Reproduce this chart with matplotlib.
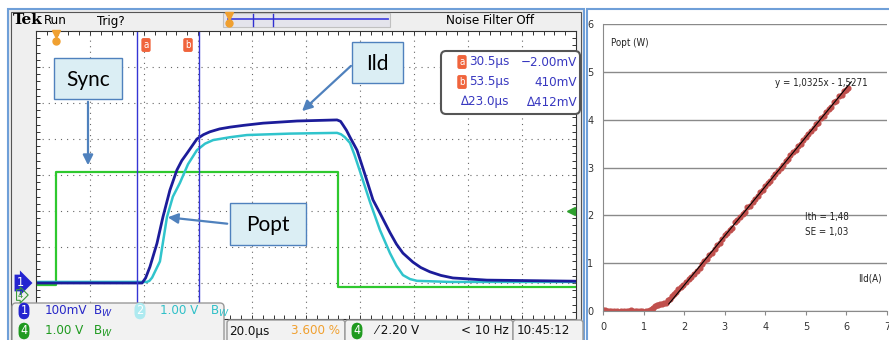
import numpy as np
import matplotlib.pyplot as plt
from matplotlib.patches import Rectangle, FancyBboxPatch

# ---- oscilloscope traces (time in us) ----
t_ild = [-7.0, 32.3, 33.6, 35.2, 37.8, 40.0, 42.6, 45.2, 47.0, 48.9, 52.6, 55.0, 57.4, 61.0,
         64.9, 70.0, 77.1, 89.7, 104.5, 105.8, 106.7, 108.0, 109.3, 111.9, 114.9, 117.8,
         120.4, 124.1, 126.5, 128.9, 132.6, 135.5, 138.9, 143.0, 147.4, 160.0, 193.0]
ild_mv = [0, 0, 14, 45, 110, 183, 258, 314, 340, 360, 400, 412, 420, 428,
          433, 438, 444, 450, 453, 449, 439, 424, 405, 369, 300, 231,
          194, 140, 108, 83, 58, 43, 31, 21, 14, 8, 5]

t_popt = [-7.0, 34.1, 35.0, 36.0, 38.9, 41.5, 43.7, 46.3, 49.3, 52.6, 55.6, 58.6, 64.9, 71.1,
          87.1, 104.5, 106.0, 107.4, 109.3, 111.0, 113.0, 116.7, 120.4, 124.1, 126.5, 128.9,
          131.5, 134.1, 146.3, 193.0]
popt_v = [0.03, 0.03, 0.06, 0.15, 0.6, 1.83, 2.4, 2.78, 3.3, 3.69, 3.87, 3.97, 4.05, 4.11,
          4.15, 4.17, 4.13, 4.05, 3.89, 3.55, 3.1, 2.25, 1.47, 0.83, 0.48, 0.22,
          0.11, 0.06, 0.03, 0.03]

t_sync = [-7.0, 0.4, 0.4, 104.9, 104.9, 193.0]
sync_v = [-0.05, -0.05, 3.08, 3.08, -0.1, -0.1]

cursors_us = [30.5, 53.5]
ch1_scale = 100.0   # mV/div
ch2_scale = 1.0     # V/div
ch4_scale = 1.0     # V/div
gnd = -3            # ground level (div)

# ---- P-I characteristic ----
ild_a = [0.00, 0.03, 0.06, 0.10, 0.14, 0.20, 0.28, 0.35, 0.45, 0.52, 0.58, 0.63, 0.68, 0.72,
         0.78, 0.83, 0.90, 0.97, 1.05, 1.12,
         1.16, 1.20, 1.24, 1.28, 1.32, 1.36, 1.40, 1.45, 1.50, 1.55, 1.60, 1.65, 1.70, 1.75,
         1.80, 1.86, 1.92, 1.98, 2.05, 2.12, 2.18, 2.25, 2.31, 2.38, 2.44, 2.50, 2.56, 2.62,
         2.69, 2.75, 2.81, 2.88, 2.94, 3.00, 3.06, 3.12, 3.19, 3.25, 3.31, 3.38, 3.44, 3.50,
         3.56, 3.62, 3.69, 3.75, 3.81, 3.88, 3.94, 4.00, 4.06, 4.12, 4.19, 4.25, 4.31, 4.38,
         4.44, 4.50, 4.56, 4.62, 4.69, 4.75, 4.81, 4.88, 4.94, 5.00, 5.06, 5.12, 5.19, 5.25,
         5.31, 5.38, 5.44, 5.50, 5.56, 5.62, 5.69, 5.75, 5.81, 5.88, 5.94, 6.00, 6.05]
popt_w = [0.02, 0.01, 0.03, 0.01, 0.00, 0.01, 0.00, -0.01, 0.00, 0.01, 0.01, 0.00, 0.02, 0.01,
          0.01, 0.00, 0.01, 0.00, -0.01, 0.00,
          0.02, 0.04, 0.07, 0.10, 0.12, 0.13, 0.14, 0.15, 0.16, 0.17, 0.22, 0.26, 0.31, 0.36,
          0.40, 0.45, 0.50, 0.54, 0.60, 0.66, 0.72, 0.77, 0.83, 0.90, 0.99, 1.04, 1.09, 1.18,
          1.22, 1.30, 1.38, 1.42, 1.50, 1.58, 1.63, 1.70, 1.74, 1.86, 1.90, 1.96, 2.03, 2.07,
          2.18, 2.20, 2.27, 2.34, 2.40, 2.49, 2.53, 2.61, 2.68, 2.72, 2.81, 2.87, 2.92, 3.00,
          3.05, 3.13, 3.17, 3.26, 3.32, 3.37, 3.45, 3.50, 3.58, 3.64, 3.69, 3.77, 3.82, 3.90,
          3.94, 4.04, 4.08, 4.15, 4.22, 4.26, 4.36, 4.40, 4.49, 4.52, 4.60, 4.63, 4.66]
fit_slope = 1.0325
fit_icpt = -1.5271
fit_range = [1.62, 6.12]

W, H = 889, 340
cond = dict(family='DejaVu Sans', stretch='condensed')


def box(l, t, r, b):
    return [l / W, 1 - b / H, (r - l) / W, (b - t) / H]


fig = plt.figure(figsize=(W / 100, H / 100), dpi=100)

# background frames
bg = fig.add_axes([0, 0, 1, 1], zorder=0)
bg.set_xlim(0, W); bg.set_ylim(H, 0); bg.axis('off')
bg.add_patch(Rectangle((8, 9), 576, 335, fc='#ececec', ec='#6f9fd8', lw=1.5))
bg.add_patch(Rectangle((11, 12), 570, 330, fc='#efefef', ec='#555555', lw=0.8))
bg.add_patch(Rectangle((587, 9), 305, 335, fc='white', ec='#6f9fd8', lw=1.5))

# ---- scope screen ----
sc = fig.add_axes(box(36, 31, 576, 319), zorder=1)
sc.set_facecolor('white')
sc.set_xlim(-7, 193)
sc.set_ylim(-4, 4)
for s in sc.spines.values():
    s.set_color('#333333'); s.set_linewidth(0.8)
sc.set_xticks(np.arange(-7, 193.1, 4))
sc.set_yticks(np.arange(-4, 4.01, 0.2))
sc.tick_params(direction='in', length=3, width=0.7, color='#333333',
               top=True, right=True, labelbottom=False, labelleft=False)
for k in range(1, 10):
    sc.axvline(-7 + 20 * k, color='#666666', lw=0.8, ls=(0, (1, 4)))
for k in range(-3, 4):
    sc.axhline(k, color='#666666', lw=0.8, ls=(0, (1, 4.5)))

sc.plot(t_sync, gnd + np.array(sync_v) / ch4_scale, color='#2ec82e', lw=1.6)
sc.plot(t_popt, gnd + np.array(popt_v) / ch2_scale, color='#30c4cc', lw=1.8)
sc.plot(t_ild, gnd + np.array(ild_mv) / ch1_scale, color='#1c1c9a', lw=2.0)
for c in cursors_us:
    sc.axvline(c, color='#3535d5', lw=1.0)

# ---- P-I chart ----
pi = fig.add_axes(box(603, 24, 887, 311), zorder=1)
pi.set_xlim(0, 7)
pi.set_ylim(0, 6)
pi.set_xticks(range(8))
pi.set_yticks(range(7))
pi.grid(axis='y', color='#8a8a8a', lw=1)
pi.set_axisbelow(True)
for s in ['top', 'right']:
    pi.spines[s].set_visible(False)
for s in ['left', 'bottom']:
    pi.spines[s].set_color('#8a8a8a')
pi.tick_params(axis='x', length=3, color='#8a8a8a', labelsize=7, labelcolor='#333333', pad=5)
pi.tick_params(axis='y', length=0, labelsize=7, labelcolor='#333333', pad=7)
pi.plot(ild_a, popt_w, 'o', color='#c0504d', ms=3.4, mec='#c0504d')
fx = np.array(fit_range)
pi.plot(fx, fit_slope * fx + fit_icpt, color='black', lw=0.8)
lbl = dict(fontsize=7, color='#222222', va='center', **cond)
pi.text(0.2, 5.6, 'Popt (W)', **lbl)
pi.text(4.25, 4.77, 'y = 1,0325x - 1,5271', **lbl)
pi.text(4.97, 1.97, 'Ith = 1,48', **lbl)
pi.text(4.97, 1.65, 'SE = 1,03', **lbl)
pi.text(6.3, 0.67, 'Ild(A)', **lbl)

# ---- overlay: scope chrome and annotations ----
ov = fig.add_axes([0, 0, 1, 1], zorder=2)
ov.set_xlim(0, W); ov.set_ylim(H, 0); ov.axis('off')
ov.patch.set_alpha(0)

ov.text(13, 20, 'Tek', family='DejaVu Serif', weight='bold', fontsize=11, va='center')
ov.text(44, 21, 'Run', fontsize=9.5, va='center', **cond)
ov.text(97, 21, 'Trig?', fontsize=9.5, va='center', **cond)
ov.text(446, 21, 'Noise Filter Off', fontsize=9.5, va='center', **cond)
ov.add_patch(Rectangle((223, 13), 167, 14, fc='#e4e4ec', ec='#c0c0c0', lw=0.8))
ov.plot([228, 388], [19, 19], color='#4848e0', lw=1.3)
for x in [253, 273]:
    ov.plot([x, x], [14, 26], color='#3030d0', lw=1)
ov.plot(229, 16, 'v', color='#f0a030', ms=6)
ov.plot(229, 23, 'o', color='#f0a030', ms=5)
ov.plot(56, 34, 'v', color='#f0a030', ms=6)
ov.plot(56, 41, 'o', color='#f0a030', ms=5)

badge = dict(ha='center', va='center', color='white', **cond)
orange = dict(boxstyle='round,pad=0.2', fc='#f0643c', ec='none')
ov.text(146, 45, 'a', fontsize=7, bbox=orange, **badge)
ov.text(188, 45, 'b', fontsize=7, bbox=orange, **badge)
ov.text(20, 283, '1', fontsize=9, bbox=dict(boxstyle='rarrow,pad=0.15', fc='#2424d0', ec='none'), **badge)
ov.text(20, 295, '4', fontsize=6, ha='center', va='center', color='#3a9a3a',
        bbox=dict(boxstyle='rarrow,pad=0.1', fc='none', ec='#3a9a3a', lw=0.8))
ov.plot(571, 211, '<', color='#2ea02e', ms=6)

# measurement readout
ov.add_patch(FancyBboxPatch((441, 51), 139, 63, boxstyle='round,pad=0,rounding_size=5',
                            fc='white', ec='#555555', lw=1.5))
blue_t = '#3838c0'
for y, lab in [(62, 'a'), (82, 'b')]:
    ov.text(462, y, lab, fontsize=7, bbox=orange, **badge)
rows = [('30.5µs', '\u22122.00mV'), ('53.5µs', '410mV'), ('\u220623.0µs', '\u2206412mV')]
for (y, (a, b)) in zip([62, 82, 102], rows):
    ov.text(509, y, a, ha='right', va='center', color=blue_t, fontsize=9.5, **cond)
    ov.text(577, y, b, ha='right', va='center', color=blue_t, fontsize=9.5, **cond)

# annotation callouts
call = dict(fc='#dbeef4', ec='#4f81bd', lw=1)
arrow = dict(arrowstyle='-|>,head_length=0.6,head_width=0.3', color='#4f81bd', lw=1.6)
for (l, t, r, b, txt) in [(54, 58, 122, 99, 'Sync'), (352, 42, 403, 83, 'Ild'), (230, 203, 306, 245, 'Popt')]:
    ov.add_patch(Rectangle((l, t), r - l, b - t, **call))
    ov.text((l + r) / 2, (t + b) / 2 + 1, txt, ha='center', va='center', fontsize=15, family='Lato')
ov.annotate('', xy=(88, 168), xytext=(88, 99), arrowprops=arrow)
ov.annotate('', xy=(300, 113), xytext=(353, 64), arrowprops=arrow)
ov.annotate('', xy=(165, 217), xytext=(230, 224), arrowprops=arrow)

# bottom status panels
pan = dict(fc='#f2f2f2', ec='#9a9a9a', lw=1)
ov.add_patch(FancyBboxPatch((12, 303), 212, 45, boxstyle='round,pad=0,rounding_size=4', **pan))
ov.add_patch(FancyBboxPatch((227, 320), 118, 30, boxstyle='round,pad=0,rounding_size=3', **pan))
ov.add_patch(FancyBboxPatch((345, 320), 168, 30, boxstyle='round,pad=0,rounding_size=3', **pan))
ov.add_patch(FancyBboxPatch((513, 320), 70, 30, boxstyle='round,pad=0,rounding_size=3', **pan))

rb = 'round,pad=0.15,rounding_size=0.5'
ov.text(24, 311, '1', fontsize=9, bbox=dict(boxstyle=rb, fc='#2424d0', ec='none'), **badge)
ov.text(140, 311, '2', fontsize=9, bbox=dict(boxstyle=rb, fc='#aeeaf0', ec='none'), **badge)
ov.text(24, 331, '4', fontsize=9, bbox=dict(boxstyle=rb, fc='#1f9a1f', ec='none'), **badge)
ov.text(357, 331, '4', fontsize=9, bbox=dict(boxstyle=rb, fc='#1f9a1f', ec='none'), **badge)
st = dict(va='center', fontsize=9.5, **cond)
ov.text(45, 311, '100mV', color='#2828c8', **st)
ov.text(93, 311, 'B$_W$', color='#2828c8', **st)
ov.text(160, 311, '1.00 V', color='#30c0c8', **st)
ov.text(210, 311, 'B$_W$', color='#30c0c8', **st)
ov.text(45, 331, '1.00 V', color='#1f9a1f', **st)
ov.text(93, 331, 'B$_W$', color='#1f9a1f', **st)
ov.text(229, 331, '20.0µs', color='#111111', **st)
ov.text(340, 331, '3.600 %', color='#f0a030', ha='right', **st)
ov.text(375, 331, '\u2044 2.20 V', color='#111111', **st)
ov.text(509, 331, '< 10 Hz', color='#111111', ha='right', **st)
ov.text(517, 331, '10:45:12', color='#111111', **st)

fig.savefig('out.png', dpi=100)
